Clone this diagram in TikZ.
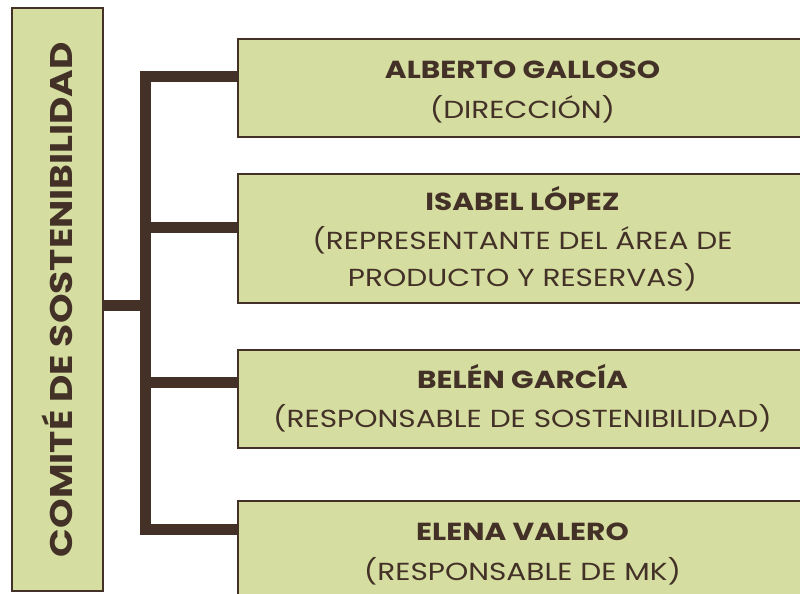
\documentclass[tikz,border=0pt]{standalone}
\usepackage{fontspec}
\setmainfont{Poppins}[FakeStretch=1.2]
\usetikzlibrary{calc}
\definecolor{verde}{HTML}{D5DEA0}
\definecolor{marron}{HTML}{433128}

\begin{document}
\begin{tikzpicture}[x=0.75pt,y=-0.75pt,
    every node/.style={text=marron,font=\fontsize{18.5}{27.5}\selectfont},
    caja/.style={draw=marron,line width=1.5pt,fill=verde,inner sep=0pt,align=center},
    miembro/.style={caja,anchor=north west,minimum width=426.75pt},
    rama/.style={draw=marron,line width=8.25pt}]
\useasboundingbox (0,0) rectangle (800,593);
\clip (0,0) rectangle (800,593);
    % comite
    \node[caja,rotate=90,minimum width=437.25pt,minimum height=68.25pt,
        font=\fontsize{23.5}{28}\selectfont\bfseries] (comite) at (57.5,299.5) {COMITÉ DE SOSTENIBILIDAD};
    % miembros
    \node[miembro,minimum height=73.5pt] (alberto) at (237,38)
        {\rule{0pt}{19pt}\textbf{ALBERTO GALLOSO}\\[2pt] (DIRECCIÓN)};
    \node[miembro,minimum height=96.75pt] (isabel) at (237,173)
        {\textbf{ISABEL LÓPEZ}\\[2pt] (REPRESENTANTE DEL ÁREA DE\\ PRODUCTO Y RESERVAS)};
    \node[miembro,minimum height=73.5pt] (belen) at (237,348.5)
        {\textbf{BELÉN GARCÍA}\\[2pt] (RESPONSABLE DE SOSTENIBILIDAD)};
    \node[miembro,minimum height=73.5pt] (elena) at (237,500)
        {\rule{0pt}{19pt}\textbf{ELENA VALERO}\\[2pt] (RESPONSABLE DE MK)};
    % ramas
    \coordinate (tronco) at (145.5,305);
    \coordinate (r1) at ($(alberto.north west)+(0,38.5)$);
    \coordinate (r2) at ($(isabel.north west)+(0,54)$);
    \coordinate (r3) at ($(belen.north west)+(0,34)$);
    \coordinate (r4) at ($(elena.north west)+(0,29)$);
    \draw[rama] (r1) -| (tronco) |- (r4);
    \draw[rama] (r2) -- (r2 -| tronco);
    \draw[rama] (r3) -- (r3 -| tronco);
    \draw[rama] (tronco) -- (tronco -| comite.south);
\end{tikzpicture}
\end{document}
